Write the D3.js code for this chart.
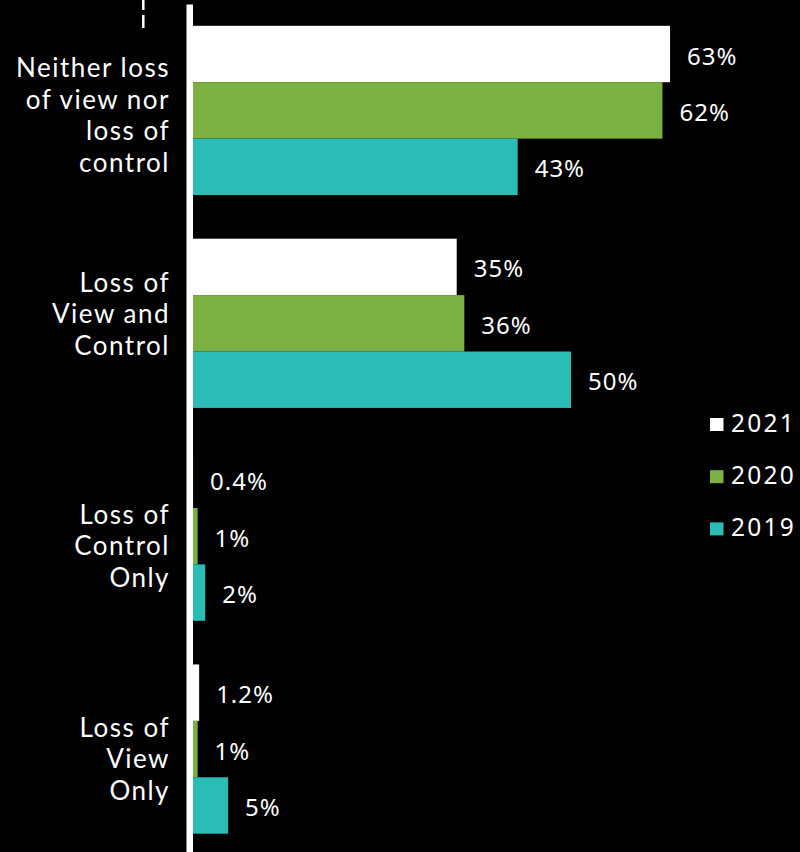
<!DOCTYPE html>
<html>
<head>
<meta charset="utf-8">
<script src="https://cdn.jsdelivr.net/npm/d3@7"></script>
<style>
  html, body { margin: 0; padding: 0; background: #000; }
  svg { display: block; }
  text { font-family: "Noto Sans", "Open Sans", sans-serif; fill: #fff; }
  text.cat { font-family: Lato, "Noto Sans", sans-serif; }
</style>
</head>
<body>
<svg id="chart" width="800" height="852"></svg>
<script>
// Categories (top to bottom), each split into the lines it is printed on
const categories = [
  "Neither loss of view nor loss of control",
  "Loss of View and Control",
  "Loss of Control Only",
  "Loss of View Only"
];
const categoryLines = [
  ["Neither loss", "of view nor", "loss of", "control"],
  ["Loss of", "View and", "Control"],
  ["Loss of", "Control", "Only"],
  ["Loss of", "View", "Only"]
];

// Survey years, in the order the bars appear inside each group
const years = ["2021", "2020", "2019"];

// Share of respondents (%) per category
const values2021 = [63, 35, 0.4, 1.2];
const values2020 = [62, 36, 1, 1];
const values2019 = [43, 50, 2, 5];

const seriesValues = { "2021": values2021, "2020": values2020, "2019": values2019 };
const colors = { "2021": "#ffffff", "2020": "#7bb143", "2019": "#2cbcb6" };

const svg = d3.select("#chart");

// Layout
const x0 = 190;
const x = d3.scaleLinear().domain([0, 100]).range([x0, x0 + 762]);

const y = d3.scaleBand()
  .domain(categories)
  .range([4, 855.5])
  .paddingInner(0.205)
  .paddingOuter(0.1025);

const yInner = d3.scaleBand()
  .domain(years)
  .range([0, y.bandwidth()]);

const fmt = v => (Number.isInteger(v) ? d3.format("d")(v) : d3.format(".1f")(v)) + "%";

// Flattened rows for the bars
const rows = [];
categories.forEach((c, i) => {
  years.forEach(yr => rows.push({ category: c, year: yr, value: seriesValues[yr][i] }));
});

// Bars
svg.append("g")
  .selectAll("rect")
  .data(rows)
  .join("rect")
  .attr("x", x(0))
  .attr("y", d => y(d.category) + yInner(d.year))
  .attr("width", d => x(d.value) - x(0))
  .attr("height", yInner.bandwidth())
  .attr("fill", d => colors[d.year]);

// Value labels
svg.append("g")
  .selectAll("text")
  .data(rows)
  .join("text")
  .attr("x", d => x(d.value) + 17)
  .attr("y", d => y(d.category) + yInner(d.year) + yInner.bandwidth() / 2 + 10.5)
  .attr("font-size", 24)
  .attr("letter-spacing", 1)
  .text(d => fmt(d.value));

// Vertical category axis (white baseline, no ticks)
const axis = svg.append("g")
  .attr("transform", "translate(189.25,0)")
  .call(d3.axisLeft(y).tickSize(0).tickFormat(""));
axis.select(".domain")
  .attr("stroke", "#fff")
  .attr("stroke-width", 6.5);

// Category labels, right-aligned beside the axis, one text per line
const lineHeight = 31.5;
const blockShift = [14, 0, 19, 19];
const labelRows = [];
categories.forEach((c, i) => {
  const lines = categoryLines[i];
  const mid = y(c) + y.bandwidth() / 2 + blockShift[i];
  const first = mid - (lines.length - 1) / 2 * lineHeight;
  lines.forEach((t, j) => labelRows.push({ text: t, y: first + j * lineHeight }));
});

svg.append("g")
  .selectAll("text")
  .data(labelRows)
  .join("text")
  .attr("class", "cat")
  .attr("text-anchor", "end")
  .attr("font-size", 26)
  .attr("letter-spacing", 1.5)
  .attr("x", 170)
  .attr("y", d => d.y)
  .text(d => d.text);

// Small dashed marker at the top left
svg.append("line")
  .attr("x1", 143.3).attr("x2", 143.3)
  .attr("y1", 0).attr("y2", 28)
  .attr("stroke", "#fff")
  .attr("stroke-width", 2.5)
  .attr("stroke-dasharray", "10 5 13 60");

// Legend
const legend = svg.append("g")
  .selectAll("g")
  .data(years)
  .join("g")
  .attr("transform", (d, i) => `translate(710,${424.5 + i * 52.2})`);

legend.append("rect")
  .attr("x", 0).attr("y", -6.5)
  .attr("width", 13.5).attr("height", 13)
  .attr("fill", d => colors[d]);

legend.append("text")
  .attr("x", 21)
  .attr("y", 7.3)
  .attr("font-size", 24.5)
  .attr("letter-spacing", 2.2)
  .text(d => d);
</script>
</body>
</html>
